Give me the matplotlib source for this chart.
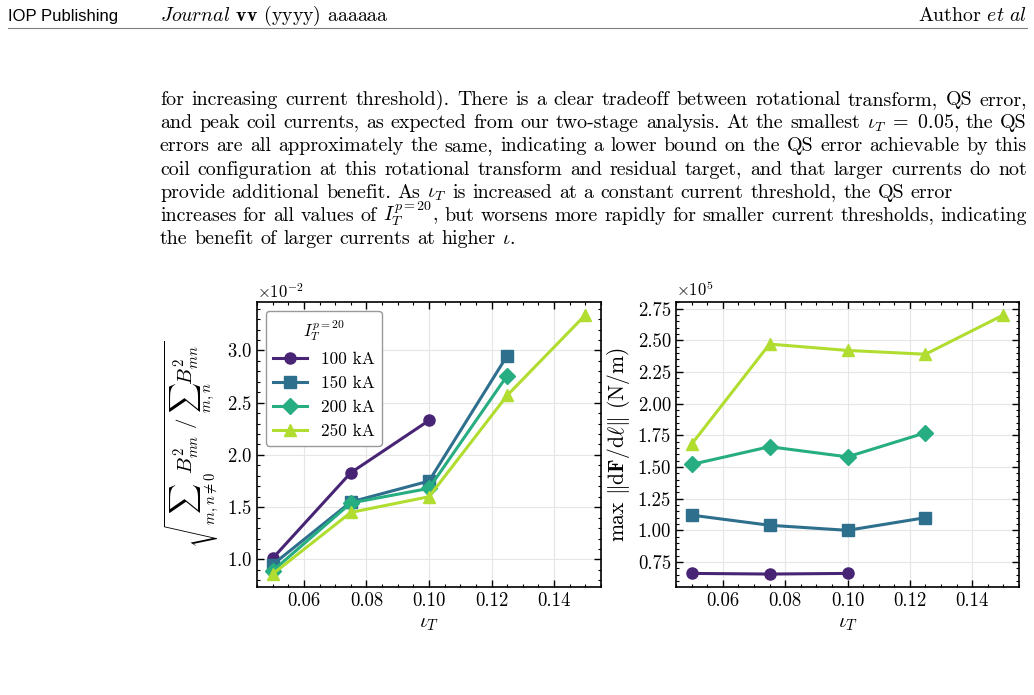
import re
import numpy as np
import matplotlib
matplotlib.use("Agg")
import matplotlib.pyplot as plt
from matplotlib.ticker import AutoMinorLocator, MultipleLocator, FuncFormatter

plt.rcParams['font.family'] = 'serif'
plt.rcParams['font.serif'] = ['cmr10']
plt.rcParams['mathtext.fontset'] = 'cm'
plt.rcParams['axes.formatter.use_mathtext'] = True
plt.rcParams['axes.unicode_minus'] = False

# data
iota = [0.05, 0.075, 0.10, 0.125, 0.15]
labels = ["100 kA", "150 kA", "200 kA", "250 kA"]
markers = ["o", "s", "D", "^"]

qs_100 = [1.01, 1.83, 2.33]
qs_150 = [0.95, 1.55, 1.75, 2.95]
qs_200 = [0.89, 1.54, 1.68, 2.76]
qs_250 = [0.86, 1.45, 1.60, 2.57, 3.34]

force_100 = [0.66, 0.655, 0.66]
force_150 = [1.12, 1.04, 1.00, 1.10]
force_200 = [1.52, 1.66, 1.58, 1.77]
force_250 = [1.68, 2.47, 2.42, 2.39, 2.70]

qs_all = [qs_100, qs_150, qs_200, qs_250]
force_all = [force_100, force_150, force_200, force_250]

paragraph = [
    r"for increasing current threshold). There is a clear tradeoff between rotational transform, QS error,",
    r"and peak coil currents, as expected from our two-stage analysis. At the smallest $\iota_T\ =\ 0.05$, the QS",
    r"errors are all approximately the same, indicating a lower bound on the QS error achievable by this",
    r"coil configuration at this rotational transform and residual target, and that larger currents do not",
    r"provide additional benefit. As $\iota_T$ is increased at a constant current threshold, the QS error",
    r"increases for all values of $I_T^{p=20}$, but worsens more rapidly for smaller current thresholds, indicating",
    r"the benefit of larger currents at higher $\iota$.",
]
justified = [True, True, True, True, False, True, False]

colors = plt.cm.viridis(np.linspace(0.1, 0.88, 4))

W, H = 1034, 695
fig = plt.figure(figsize=(W / 100, H / 100), dpi=100)

# page header
fig.text(8 / W, 1 - 16 / H, "IOP Publishing", family="Liberation Sans", fontsize=12, va="center")
fig.text(160 / W, 1 - 16 / H, r"$\mathit{Journal}$ $\mathbf{vv}$ (yyyy) aaaaaa", fontsize=14.3, va="center")
fig.text(1027 / W, 1 - 16 / H, r"Author $\mathit{et\ al}$", fontsize=14.3, va="center", ha="right")
fig.add_artist(plt.Line2D([8 / W, 1027 / W], [1 - 28 / H, 1 - 28 / H], color="0.5", lw=0.8))

# paragraph, justified by placing words one by one
fs = 14.4
renderer = fig.canvas.get_renderer()
x0, x1 = 160, 1027
for i, line in enumerate(paragraph):
    y = 1 - (105 + 23.2 * i) / H
    words = re.findall(r"\$[^$]*\$\S*|\S+", line)
    texts = [fig.text(0, y, w, fontsize=fs, va="baseline") for w in words]
    widths = [t.get_window_extent(renderer).width for t in texts]
    if justified[i]:
        gap = (x1 - x0 - sum(widths)) / (len(words) - 1)
    else:
        gap = renderer.points_to_pixels(fs) * 0.333
    x = x0
    for t, w in zip(texts, widths):
        t.set_x(x / W)
        x += w + gap


def style_axes(ax):
    ax.tick_params(which="both", direction="in", top=True, right=True, labelsize=13.5)
    ax.tick_params(which="major", length=5, width=1)
    ax.tick_params(which="minor", length=2.5, width=0.8)
    ax.xaxis.set_minor_locator(AutoMinorLocator())
    ax.yaxis.set_minor_locator(AutoMinorLocator())
    ax.grid(True, color="0.9", lw=0.8)
    ax.set_axisbelow(True)
    for s in ax.spines.values():
        s.set_linewidth(1.2)
    ax.set_xticks([0.06, 0.08, 0.10, 0.12, 0.14])
    ax.set_xticklabels(["0.06", "0.08", "0.10", "0.12", "0.14"])
    ax.set_xlabel(r"$\iota_T$", fontsize=15)
    ax.yaxis.get_offset_text().set_fontsize(12)


ax1 = fig.add_axes([257 / W, 1 - 587 / H, 344 / W, 285 / H])
for vals, c, m, lab in zip(qs_all, colors, markers, labels):
    ax1.plot(iota[:len(vals)], np.array(vals) * 1e-2, color=c, marker=m, lw=2.2, ms=8, label=lab)
style_axes(ax1)
ax1.ticklabel_format(axis="y", style="sci", scilimits=(0, 0))
ax1.set_ylabel(r"$\sqrt{\sum_{m,n\neq0} B_{mn}^2\ /\ \sum_{m,n} B_{mn}^2}$", fontsize=15)
ax1.legend(title=r"$I_T^{p=20}$", loc="upper left", fontsize=12.5, title_fontsize=12,
           edgecolor="0.6", framealpha=1)

ax2 = fig.add_axes([676 / W, 1 - 587 / H, 343 / W, 285 / H])
for vals, c, m in zip(force_all, colors, markers):
    ax2.plot(iota[:len(vals)], np.array(vals) * 1e5, color=c, marker=m, lw=2.2, ms=8)
style_axes(ax2)
ax2.yaxis.set_major_locator(MultipleLocator(0.25e5))
ax2.yaxis.set_minor_locator(AutoMinorLocator(5))
ax2.yaxis.set_major_formatter(FuncFormatter(lambda v, p: f"{v / 1e5:.2f}"))
ax2.text(0, 1.01, r"$\times10^{5}$", transform=ax2.transAxes, fontsize=12, va="bottom")
ax2.set_ylabel(r"max $\Vert\mathrm{d}\mathbf{F}/\mathrm{d}\ell\Vert$ (N/m)", fontsize=15.5)

fig.savefig("out.png", dpi=100)
